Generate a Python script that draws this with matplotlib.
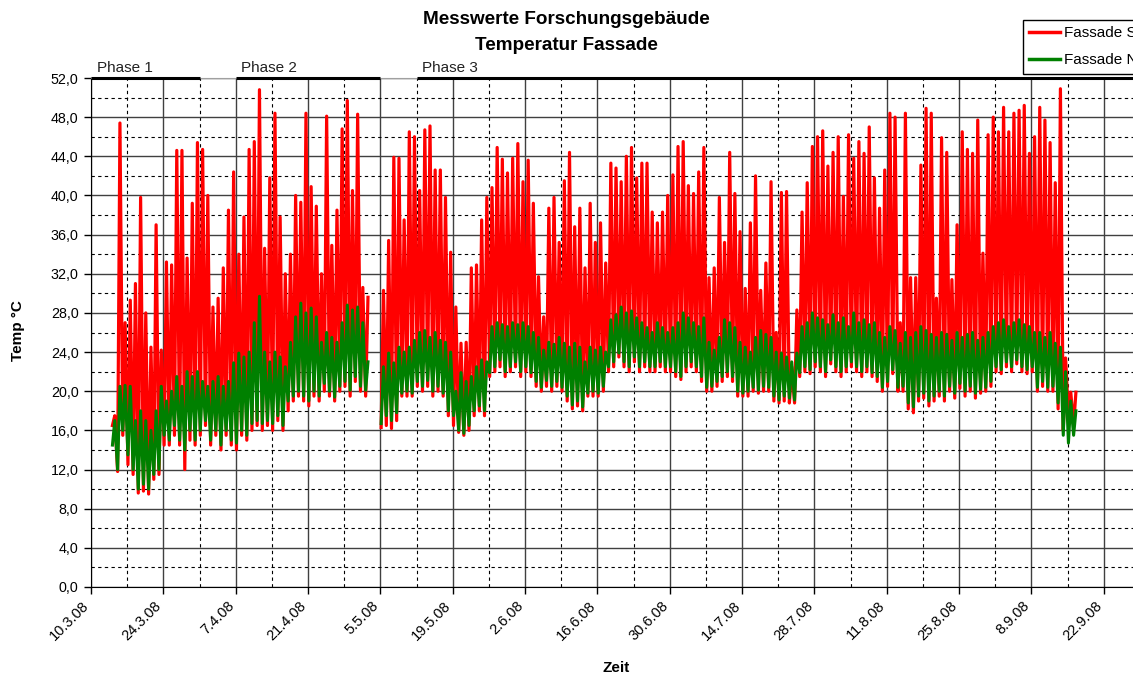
import numpy as np
import pandas as pd
import matplotlib
matplotlib.use('Agg')
import matplotlib.pyplot as plt
import matplotlib.dates as mdates
import matplotlib.transforms as mtransforms

plt.rcParams['font.family'] = ['Liberation Sans', 'DejaVu Sans']

# daily readings 14.3.08 - 16.9.08 (nan = no data)
first_day = '2008-03-14'
last_day = '2008-09-16'

sued_max = [
    17.5, 47.4, 27, 29.3, 31, 39.8, 28, 24.5, 37, 24.2,
    33.2, 32.9, 44.6, 44.6, 33.6, 39.2, 45.4, 44.7, 40, 28.6,
    29.5, 32.6, 38.5, 42.4, 34, 37.8, 44.7, 45.5, 50.8, 34.6,
    41.8, 48.4, 37.8, 32, 34, 40, 39.3, 48.4, 40.9, 38.9,
    32, 48.1, 34.9, 38.5, 46.8, 49.7, 40.5, 48.3, 30.6, 29.6,
    np.nan, np.nan,
    30.3, 35.4, 43.9, 43.8, 37.5, 46.5, 46, 40.5, 46.7, 47.1,
    42.6, 42.6, 39.8, 34.2, 28.6, 24.9, 25, 32.6, 32.9, 37.5,
    39.8, 40.8, 44.9, 43.7, 42.3, 43.8, 45.3, 41.4, 43.6, 39.2,
    31.7, 27.6, 38.7, 39.8, 35.2, 41.5, 44.4, 36.8, 38.7, 32.6,
    39.2, 35.2, 37.2, 33.1, 43.3, 42.8, 41.4, 44, 44.9, 41.8,
    43.3, 43.3, 38.3, 37.2, 38.3, 40, 42.1, 45, 45.5, 41,
    40.2, 42.4, 44.9, 31.6, 32.6, 39.8, 35.2, 44.4, 40.2, 36.3,
    30.5, 37.2, 42, 30.3, 33.1, 41.4, 26, 40.3, 40.4, 22.5,
    28.3, 38.3, 41.3, 45, 46, 46.6, 43, 44.4, 46, 39.9,
    46.2, 43.8, 45.5, 44.3, 47, 41.8, 38.7, 42.6, 48.4, 48,
    27, 48.4, 31.6, 31.6, 43.1, 48.9, 48.4, 29.5, 45.9, 44.4,
    31.4, 37, 46.5, 44.7, 44.3, 47.7, 34.1, 46.2, 48, 46.5,
    49, 46.5, 48.4, 48.7, 49.2, 44.3, 46, 49, 47.7, 45.4,
    41.3, 50.9, 23.4, 19.9, 19.9,
]

sued_min = [
    16.5, 11.8, 15.5, 12.5, 11.5, 9.6, 9.8, 9.5, 11, 11.5,
    14.5, 14.5, 15.5, 14.5, 12, 15, 14.5, 15.5, 16.5, 14.5,
    15.5, 14, 15.5, 14.5, 14, 15.5, 15, 16, 16.5, 16,
    16.5, 16, 17, 16, 18, 19, 19.5, 19, 18.5, 19.5,
    19, 20, 19.5, 19, 20, 20.5, 19.5, 21, 20, 19.5,
    np.nan, np.nan,
    16.3, 16.5, 16.2, 17, 19.5, 19.5, 19.5, 20.5, 20, 20.5,
    19.5, 20, 19.5, 17.5, 16.5, 15.8, 15.5, 16, 17.5, 18,
    17.5, 21.5, 22, 22.5, 21.5, 22, 22.5, 21.5, 22, 21.5,
    20.5, 20, 20.5, 20, 20.5, 20, 19, 18.2, 18.5, 18,
    19.5, 19.5, 19.5, 20, 22, 22.5, 23.5, 22.5, 22, 23,
    22, 22.5, 22, 22, 22.5, 22, 22, 21.5, 21.2, 22,
    22.5, 22, 21, 20, 20, 20.5, 21, 21.5, 21, 19.5,
    19.5, 19.5, 20, 19.8, 20, 20, 19, 18.8, 19, 18.8,
    18.8, 21.5, 22, 21.8, 22.5, 22, 21.5, 22.8, 22, 21.5,
    22, 22.5, 22, 21.5, 22, 21.5, 21, 20, 20.5, 21.8,
    20, 20, 18.2, 17.8, 19, 19.3, 18.5, 19, 19.5, 19,
    20, 19.3, 20.3, 19.5, 20, 19.3, 19.8, 20, 20.5, 22,
    21.8, 22.5, 22, 22.8, 22, 21.8, 22, 20, 20.5, 20,
    20, 18.2, 16, 17.5, 16.5,
]

nord_max = [
    17, 20.5, 20.6, 20.5, 17, 18, 17, 16, 18, 20.5,
    19, 20, 21.5, 20.5, 22, 21.5, 22, 21, 20.5, 21,
    21.5, 20.5, 21, 22.9, 23.9, 23.5, 24, 27, 29.7, 24,
    23, 24, 23.5, 22.5, 25, 27.6, 29, 28, 28.5, 27.6,
    25, 26, 25.5, 25, 27, 28.8, 28.3, 28.6, 27, 23,
    np.nan, np.nan,
    22.5, 23.9, 22.9, 24.5, 24, 24.5, 25.2, 26, 26.2, 25.5,
    26, 25.2, 25, 24, 20, 21.9, 21, 21.5, 22.5, 23.2,
    23, 26.6, 27, 26.8, 26.6, 27, 26.8, 27, 26.6, 26,
    25.5, 24.2, 25, 24.8, 25.5, 24.9, 24.5, 24.9, 24.5, 23,
    24.5, 24.2, 24.5, 24, 27.3, 27.8, 28.6, 28, 28.2, 27.5,
    27, 26.5, 26, 27, 26.5, 26, 26.5, 27, 28, 27.5,
    27, 26.6, 27.5, 25, 24.2, 25.5, 27.3, 27, 26.5, 25,
    24.5, 24, 25.5, 26.2, 25.8, 25.5, 24, 23.9, 23.5, 23,
    23.9, 26.6, 27, 28, 27.5, 27.3, 26.8, 27.8, 27, 27.5,
    26.6, 28, 27, 27.3, 26.8, 27, 26, 25.5, 26.6, 26.2,
    24.9, 26, 25.5, 26, 26.6, 26.2, 25.8, 25.5, 26, 25.8,
    25.2, 26, 25.5, 25.8, 26, 25.2, 25.5, 26, 26.6, 27,
    27.3, 26.6, 27, 27.3, 26.8, 26.6, 26, 26, 25.5, 26,
    24.9, 24.5, 22, 19, 18,
]

nord_min = [
    14.5, 12, 16, 13.5, 12, 10, 10.5, 10, 11.5, 12,
    15.5, 15, 16.5, 15, 14, 16, 15, 16, 17, 15,
    16, 14.5, 16, 15, 14.7, 16, 15.5, 16.7, 17, 16.7,
    17, 16.7, 17.5, 16.5, 19, 19.5, 20, 19.5, 19, 20,
    19.5, 20.8, 20, 19.4, 20.5, 21, 20.1, 21.5, 20.5, 20.1,
    np.nan, np.nan,
    16.7, 17.5, 17, 17.8, 19.8, 20, 19.8, 21, 20.5, 21.1,
    20, 20.5, 19.8, 18, 17.5, 16, 15.7, 16.5, 18, 18.5,
    18, 21.9, 22.5, 23.2, 22, 22.5, 23, 22, 22.5, 21.9,
    21, 20.4, 21.1, 20.5, 21, 20.4, 19.5, 18.6, 19, 18.4,
    19.8, 20, 19.8, 20.5, 22.5, 23, 23.9, 23, 22.5, 23.5,
    22.5, 23, 22.5, 22.5, 23, 22.5, 22.5, 22, 21.5, 22.5,
    23, 22.5, 21.5, 20.4, 20.5, 21, 21.5, 22, 21.5, 20,
    19.8, 20, 20.4, 20.1, 20.5, 20.4, 19.5, 19.1, 19.5, 19.3,
    19.1, 21.9, 22.5, 22.2, 23, 22.5, 22, 23.2, 22.5, 22,
    22.5, 23, 22.5, 22, 22.5, 21.9, 21.5, 20.4, 21, 22.2,
    20.4, 20.5, 18.8, 18.4, 19.5, 19.8, 19, 19.5, 20, 19.5,
    20.5, 19.8, 20.8, 20, 20.5, 19.8, 20.2, 20.4, 21, 22.5,
    22.2, 23, 22.5, 23.2, 22.5, 22.2, 22.5, 20.4, 21, 20.4,
    20.5, 18.8, 15.5, 14.7, 15.5,
]

xtick_labels = ['10.3.08', '24.3.08', '7.4.08', '21.4.08', '5.5.08', '19.5.08',
                '2.6.08', '16.6.08', '30.6.08', '14.7.08', '28.7.08', '11.8.08',
                '25.8.08', '8.9.08', '22.9.08']
ytick_labels = ['0,0', '4,0', '8,0', '12,0', '16,0', '20,0', '24,0', '28,0',
                '32,0', '36,0', '40,0', '44,0', '48,0', '52,0']

phase_names = ['Phase 1', 'Phase 2', 'Phase 3']
phase_start = ['2008-03-10', '2008-04-07', '2008-05-12']
phase_end = ['2008-03-31', '2008-05-05', '2008-10-10']

# night low early, afternoon peak later in the day
days = mdates.date2num(pd.date_range(first_day, last_day, freq='D'))
t = np.column_stack([days + 0.15, days + 0.6]).ravel()
sued = np.column_stack([sued_min, sued_max]).ravel()
nord = np.column_stack([nord_min, nord_max]).ravel()

fig = plt.figure(figsize=(11.33, 6.8), dpi=100)
ax = fig.add_axes([91 / 1133, 93 / 680, 1049 / 1133, 509 / 680])

ax.plot(t, sued, color='#ff0000', lw=2.3, label='Fassade Süd', zorder=3)
ax.plot(t, nord, color='#008000', lw=2.2, label='Fassade Nord', zorder=4)

x0 = mdates.date2num(pd.Timestamp('2008-03-10'))
ax.set_xlim(x0, x0 + 1049 / 5.189)
ax.set_ylim(0, 52)

xt = mdates.date2num(pd.date_range('2008-03-10', periods=len(xtick_labels), freq='14D'))
ax.set_xticks(xt)
ax.set_xticklabels(xtick_labels, rotation=45, ha='right', va='center',
                   rotation_mode='anchor', fontsize=10.5)
ax.set_xticks(xt + 7, minor=True)
ax.set_yticks(np.arange(0, 53, 4))
ax.set_yticklabels(ytick_labels, fontsize=10.3)
ax.set_yticks(np.arange(2, 52, 4), minor=True)
ax.tick_params(axis='both', which='major', direction='out', length=5, width=1, pad=4)
ax.tick_params(axis='x', which='major', pad=7)
ax.tick_params(which='minor', length=0)
shift = mtransforms.ScaledTranslation(-4 / 100, 0, fig.dpi_scale_trans)
for lbl in ax.get_xticklabels():
    lbl.set_transform(lbl.get_transform() + shift)

ax.grid(which='major', color='#404040', lw=1.0, ls='-')
ax.grid(which='minor', color='black', lw=0.8, ls=(0, (3, 3)))
ax.set_axisbelow(True)

ax.spines['right'].set_visible(False)
ax.spines['top'].set_color('#a0a0a0')
ax.spines['left'].set_color('black')
ax.spines['bottom'].set_color('black')

# phase markers on the top edge
trans = mtransforms.blended_transform_factory(ax.transData, ax.transAxes)
for name, s, e in zip(phase_names, phase_start, phase_end):
    xs = mdates.date2num(pd.Timestamp(s))
    xe = mdates.date2num(pd.Timestamp(e))
    ax.plot([xs, xe], [1, 1], color='black', lw=2.2, transform=trans,
            clip_on=False, solid_capstyle='butt', zorder=6)
    ax.annotate(name, xy=(xs, 1), xycoords=trans, xytext=(4, 2),
                textcoords='offset points', ha='left', va='bottom',
                fontsize=11, color='#222222')

fig.text(0.5, 1 - 19 / 680, 'Messwerte Forschungsgebäude', ha='center',
         va='center', fontsize=13.6, fontweight='bold')
fig.text(0.5, 1 - 46 / 680, 'Temperatur Fassade', ha='center',
         va='center', fontsize=13.6, fontweight='bold')
fig.text(18 / 1133, 1 - 331 / 680, 'Temp °C', rotation=90, ha='center',
         va='center', fontsize=11, fontweight='bold')
fig.text(616 / 1133, 1 - 668 / 680, 'Zeit', ha='center', va='center',
         fontsize=11, fontweight='bold')

leg = fig.legend(loc='upper left', bbox_to_anchor=(1023 / 1133, 1 - 20 / 680),
                 bbox_transform=fig.transFigure, fancybox=False, frameon=True,
                 edgecolor='black', framealpha=1, fontsize=11,
                 handlelength=2.0, handletextpad=0.26, borderpad=0.42,
                 labelspacing=0.85, borderaxespad=0)
leg.get_frame().set_linewidth(1.0)
for line in leg.get_lines():
    line.set_linewidth(2.5)

fig.savefig('out.png', dpi=100)
